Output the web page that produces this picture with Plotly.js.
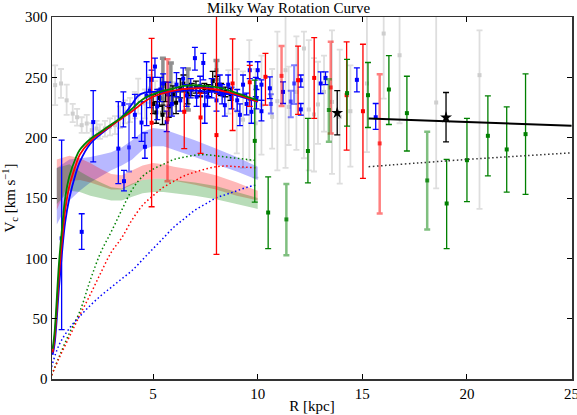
<!DOCTYPE html>
<html><head><meta charset="utf-8">
<script src="https://cdn.plot.ly/plotly-3.0.1.min.js"></script>
<style>html,body{margin:0;padding:0;background:#fff}#chart{width:577px;height:415px}</style>
</head><body><div id="chart"></div>
<script>
// ---- gray literature data ----
const grayR  = [0.32,0.6,0.87,1.16,1.37,1.59,1.83,2.07,2.3,2.46,2.7,2.94,3.18,3.42,3.66,3.9,4.13,4.29,4.61,4.85,5.1,5.5,6.0,8.6,9.0,9.3,9.6,9.9,10.18,10.69,10.94,11.33,11.48,11.85,12.21,12.44,12.69,12.88,13.17,13.55,13.92,14.43,15.22,16.02,16.78,18.53,20.6];
const grayV  = [243.6,245,231,220,217,210.4,211.8,206.3,207.7,205,207.7,209,210.4,217,221.5,222.9,227,235.3,228.4,240.8,237,232,236,238,222,215,231,212,227,217.3,230.3,256,225.6,238,274,223.4,219.3,227.6,238,229.7,217.3,222,245,286.4,268.4,229.2,251.9];
const grayHi = [260,257,244,228,224,217,219,212,214,211,214,216,218,226,231,233,238,249,240,252,247,244,246,256,257,255,281,257,268,257,288,305,259,284,288,281,266,263,268,289,273,260,305,305,305,305,289];
const grayLo = [227,233,219,213,210,204,204,200,201,199,201,202,203,208,212,213,216,220,216,229,227,220,226,220,187,175,181,167,186,191,173,175,194,190,183,173,172,195,205,170,162,176,188,232.5,212,158,141];

// ---- blue data ----
const blueR  = [0.63,1.59,2.14,3.34,3.58,3.61,4.13,4.45,4.61,4.69,4.85,4.93,5.09,5.2,5.35,5.48,5.65,5.72,5.9,6.12,6.3,6.44,6.6,6.8,7.0,7.08,7.25,7.4,7.47,7.6,7.8,8.03,8.19,8.3,8.43,8.59,8.75,9.02,9.15,9.3,9.47,9.62,9.7,9.91,9.94,10.0,10.18,10.18,10.58,11.21,12.06,12.06,13.01,13.24,14.74,15.64];
const blueV  = [116.6,122,213,191,228,164,219,212.6,192.5,235,239,248,259,226,240,245,213,236,228,244,231,249,235,241,266,234,243,262,227,234,241,231,244,236,227,244,233,231,219,244,228,256,221.5,242,232,256,244,222,241,238,247.7,223.5,245,249.6,248,217];
const blueHi = [198,137,239,230,238,173,236,230,204,263,250,256,266,240,250,253,222,246,238,254,240,258,244,249,275,242,251,270,237,242,249,240,252,244,236,252,242,240,228,252,237,263,231,250,240,263,248,231,250.5,246.3,252,228.4,254.6,254.6,258,228.4];
const blueLo = [41,107.5,180,162,209,156,200,197,183,210,225,238,250,215,230,237,205,226,218,234,222,240,226,233,256,226,235,248,212,226,233,222,236,228,218,236,224,222,210,236,219,249,212,234,224,249,231,214,232.5,228.4,242,218.7,236.7,244,238,207];
const blueFadeR  = [3.85,10.63,11.58,11.74];
const blueFadeV  = [192,228,230,245];
const blueFadeHi = [228,236,239,260];
const blueFadeLo = [172,220,217,228];

// ---- black data ----
const blackR  = [5.0,5.15,5.3,5.45,5.6,5.75,5.95,6.1,6.3,6.45,6.65,6.85,7.05,7.25,7.45,7.65,7.85,8.05,8.25,8.45,8.7];
const blackV  = [228,221,233,219,238,226,236,229,241,245,236,240,242,238,241,239,247,244,240,238,236];
const blackHi = [236,230,240,227,246,235,243,238,249,252,244,245,247,242,245,244,255,251,245,242,241];
const blackLo = [220,212,226,211,230,217,229,220,233,238,228,235,237,234,237,234,239,237,235,234,231];
const dgrayR  = [5.47,5.85,6.66,8.03];
const dgrayV  = [243,240,240,256];
const dgrayHi = [266,262,257,264];
const dgrayLo = [221,220,223,248];

// ---- red data ----
const redR  = [4.93,6.49,7.27,8.03,8.8,9.62,10.37,11.93,12.7,14.25,15.03];
const redV  = [212.4,221.5,216.8,202.2,245,246,250.5,247.7,249.6,235.3,222];
const redHi = [282.3,240,237,305,282,260,270,276,283,279.5,277.5];
const redLo = [142.8,191,187,103.3,206,226,227,219.3,216,189.7,166.3];
const redFadeR  = [5.69,11.14,13.49,15.83];
const redFadeV  = [215.2,251.3,241.7,195.3];
const redFadeHi = [265,276,279.5,252.7];
const redFadeLo = [164,226.4,203.6,137.3];

// ---- green data ----
const greenR  = [9.86,10.5,12.4,14.27,15.27,16.27,17.13,19.03,20.0,21.0,21.9,22.8];
const greenV  = [197.4,138,189,237,235.3,240,220.4,145.5,181.4,201.6,190.3,203];
const greenHi = [247.7,167.6,216,265,262.4,268,251,182,216,234.7,225.6,253];
const greenLo = [146.6,108,162.6,209.6,208.5,211,189,108,147,168.4,155,153];
const greenFadeR  = [11.37,13.4,18.1];
const greenFadeV  = [132.3,223,164.6];
const greenFadeHi = [161.6,248.5,205];
const greenFadeLo = [102.5,196.6,124];

// ---- stars ----
const starR  = [13.8,19.0];
const starV  = [220.6,216.8];
const starHi = [239,237.5];
const starLo = [202.4,196.6];

// ---- model curves ----
const curveR = [0.2,0.3,0.5,0.65,0.8,1.0,1.3,1.5,2,2.5,3,3.5,4,4.3,4.6,5,5.5,6,6.5,7,7.5,8,8.5,9,9.5,10];
const curveGreen = [25,40,95,125,150,168,183,190,199,205,211,217,224,229,233,236,239,241,243,243.5,243,242,240,237,234,231];
const curveRed   = [22,35,85,115,140,160,177,186,197,204,210,216,222,226,230,234,237,239,240.5,241,241,240,238,236,233,230];
const curveBlue  = [20,30,75,105,130,150,170,180,195,203,210,217,228,235,237.5,238,238,238.5,239,239,238.5,238,237,235,232.5,230];

// ---- bands ----
const bandR = [0.4,1,1.5,2,2.5,3,3.5,4,4.5,5,5.5,6,7,8,9,10];
const blueBandLo  = [128,148,156,163,168,173,177,182,190,193,193,190,184,178,172,165];
const blueBandHi  = [175,182,183,184,186,188,192,198,205,208,207,204,198,191,184,176];
const redBandLo   = [140,164,165,163,160,157,157,161,165,166,166,164,161,157,152,148];
const redBandHi   = [182,185,183,179,174,170,169,173,177,179,178,176,173,169,163,156];
const greenBandLo = [145,156,155,152,150,148,148,151,154,155,155,154,152,149,145,141];
const greenBandHi = [175,178,172,167,163,159,158,162,165,166,166,165,163,160,155,150];

// ---- dotted (baryonic) curves ----
const dotR = [0.15,0.5,1,1.5,2,2.5,3,3.5,4,4.5,5,5.5,6,6.5,7,7.5,8,8.5,9,9.5,10];
const dotGreen = [3,18,38,56,82,105,122,140,157,168,174,178,182,184,185.5,186,185,184,183,182,181];
const dotRed   = [3,17,35,53,70,88,105,117,132,144,152,159,164,168.5,171.5,174,176,176.5,176,175.5,175];
const dotBlue  = [10,28,42,52,61,69,76,83,90,99,108,117,126,133,140,145,150,153,156,159,161];

// ---- outer black model ----
const outerR = [15.3,20,25];
const outerSolid = [216,213,210];
const outerDot = [176,182,187.5];

const tickX = [5,10,15,20,25];
const tickY = [0,50,100,150,200,250,300];

function errTrace(R,V,hi,lo,color,mcolor,thick,sym,msize){
  return {x:R,y:V,type:'scatter',mode:'markers',hoverinfo:'skip',cliponaxis:true,
    marker:{symbol:sym||'square',size:msize||4,color:mcolor||color,line:{width:0}},
    error_y:{type:'data',symmetric:false,array:hi.map((h,i)=>h-V[i]),arrayminus:V.map((v,i)=>v-lo[i]),
      color:color,thickness:thick||1.3,width:3}};
}
function band(lo,hi,color){
  return {x:bandR.concat(bandR.slice().reverse()),y:hi.concat(lo.slice().reverse()),type:'scatter',mode:'lines',
    fill:'toself',fillcolor:color,line:{width:0},hoverinfo:'skip'};
}
function line(R,V,color,dash,w){
  return {x:R,y:V,type:'scatter',mode:'lines',line:{color:color,dash:dash||'solid',width:w||1.6,shape:'spline'},hoverinfo:'skip'};
}
const fineDot = '1.5px,2.5px';

const traces = [
  errTrace(grayR,grayV,grayHi,grayLo,'rgb(222,222,222)','rgb(206,206,206)',1.8),
  band(blueBandLo,blueBandHi,'rgba(0,0,255,0.28)'),
  band(redBandLo,redBandHi,'rgba(255,0,0,0.28)'),
  band(greenBandLo,greenBandHi,'rgba(0,128,0,0.28)'),
  line(dotR,dotGreen,'#008000',fineDot,1.5),
  line(dotR,dotRed,'#ff0000',fineDot,1.5),
  line(dotR,dotBlue,'#0000ff',fineDot,1.5),
  errTrace(dgrayR,dgrayV,dgrayHi,dgrayLo,'rgba(70,70,70,0.6)','rgba(70,70,70,0.6)',3.5),
  errTrace(blackR,blackV,blackHi,blackLo,'#000000','#000000',1.3),
  errTrace(blueFadeR,blueFadeV,blueFadeHi,blueFadeLo,'rgba(0,0,255,0.5)','rgba(0,0,255,0.6)',2),
  errTrace(blueR,blueV,blueHi,blueLo,'#0000ff','#0000ff',1.3),
  errTrace(redFadeR,redFadeV,redFadeHi,redFadeLo,'rgba(255,0,0,0.5)','rgba(255,0,0,0.7)',2.5),
  errTrace(redR,redV,redHi,redLo,'#ff0000','#ff0000',1.3),
  errTrace(greenFadeR,greenFadeV,greenFadeHi,greenFadeLo,'rgba(0,128,0,0.5)','rgba(0,128,0,0.8)',2.5),
  errTrace(greenR,greenV,greenHi,greenLo,'#008000','#008000',1.3),
  line(curveR,curveBlue,'#0000ff','solid',1.8),
  line(curveR,curveRed,'#ff0000','solid',1.8),
  line(curveR,curveGreen,'#008000','solid',1.8),
  line(outerR,outerSolid,'#000000','solid',2),
  line(outerR,outerDot,'#333333',fineDot,1.5),
  errTrace(starR,starV,starHi,starLo,'#000000','#000000',1.3,'star',9)
];

const serif = 'Liberation Serif, Times New Roman, serif';
const layout = {
  width:577,height:415,showlegend:false,
  paper_bgcolor:'#fff',plot_bgcolor:'#fff',
  margin:{l:52,r:5,t:17,b:36},
  font:{family:serif,size:15,color:'#000'},
  title:{text:'Milky Way Rotation Curve',font:{family:serif,size:15,color:'#000'},x:0.5,xanchor:'center',y:0.981,yref:'container',yanchor:'middle'},
  xaxis:{range:[0.17,25.02],tickvals:tickX,ticktext:tickX.map(String),ticks:'inside',ticklen:5,tickwidth:1,tickcolor:'#000',
    ticklabeloverflow:'allow',
    showline:true,mirror:'ticks',linecolor:'#333',linewidth:1.5,showgrid:false,zeroline:false,
    tickfont:{family:serif,size:15},title:{text:'R [kpc]',font:{family:serif,size:15},standoff:0}},
  yaxis:{range:[0,300.1],tickvals:tickY,ticktext:tickY.map(String),ticks:'inside',ticklen:5,tickwidth:1,tickcolor:'#000',
    ticklabeloverflow:'allow',
    showline:true,mirror:'ticks',linecolor:'#333',linewidth:1.5,showgrid:false,zeroline:false,
    tickfont:{family:serif,size:15},title:{text:'V<sub>c</sub> [km s<sup>−1</sup>]',font:{family:serif,size:15},standoff:6}}
};
Plotly.newPlot('chart',traces,layout,{staticPlot:true,displayModeBar:false});
</script></body></html>
